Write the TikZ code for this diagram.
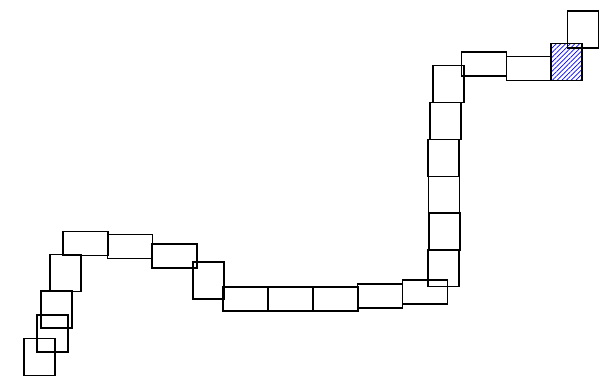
\documentclass[tikz,border=0pt]{standalone}
\usetikzlibrary{patterns.meta}
\tikzset{
  seg vert/.style={
    rectangle,
    draw=black,
    line width=1.6pt,
    inner sep=0pt,
    minimum width=31pt,
    minimum height=37pt,
  },
  seg horiz/.style={
    rectangle,
    draw=black,
    line width=1.6pt,
    inner sep=0pt,
    minimum width=45pt,
    minimum height=24pt,
  },
  seg head/.style={
    seg vert,
    pattern={Lines[angle=45,distance=3.3pt,line width=0.7pt]},
    pattern color=blue,
  },
}
\begin{document}
\begin{tikzpicture}[x=1pt,y=-1pt]
  \useasboundingbox (0,0) rectangle (613,376);
  \node[seg vert] (s1) at (39.5,357) {};
  \node[seg vert] (s2) at (52.5,333.5) {};
  \node[seg vert] (s3) at (56.5,309.5) {};
  \node[seg vert] (s4) at (65.5,273) {};
  \node[seg horiz] (s5) at (85.5,243.5) {};
  \node[seg horiz] (s6) at (130,246.5) {};
  \node[seg horiz] (s7) at (174.5,256) {};
  \node[seg vert] (s8) at (208.5,280.5) {};
  \node[seg horiz] (s9) at (245.5,299) {};
  \node[seg horiz] (s10) at (290.5,299) {};
  \node[seg horiz] (s11) at (335.5,299) {};
  \node[seg horiz] (s12) at (380,296) {};
  \node[seg horiz] (s13) at (425,292) {};
  \node[seg vert] (s14) at (443.5,268) {};
  \node[seg vert] (s15) at (444.5,231.5) {};
  \node[seg vert] (s16) at (444,195) {};
  \node[seg vert] (s17) at (443.5,158) {};
  \node[seg vert] (s18) at (445.5,121) {};
  \node[seg vert] (s19) at (448.5,84) {};
  \node[seg horiz] (s20) at (484,64) {};
  \node[seg horiz] (s21) at (529,68.5) {};
  \node[seg head] (s22) at (566.5,62) {};
  \node[seg vert] (s23) at (583,29.5) {};
\end{tikzpicture}
\end{document}
